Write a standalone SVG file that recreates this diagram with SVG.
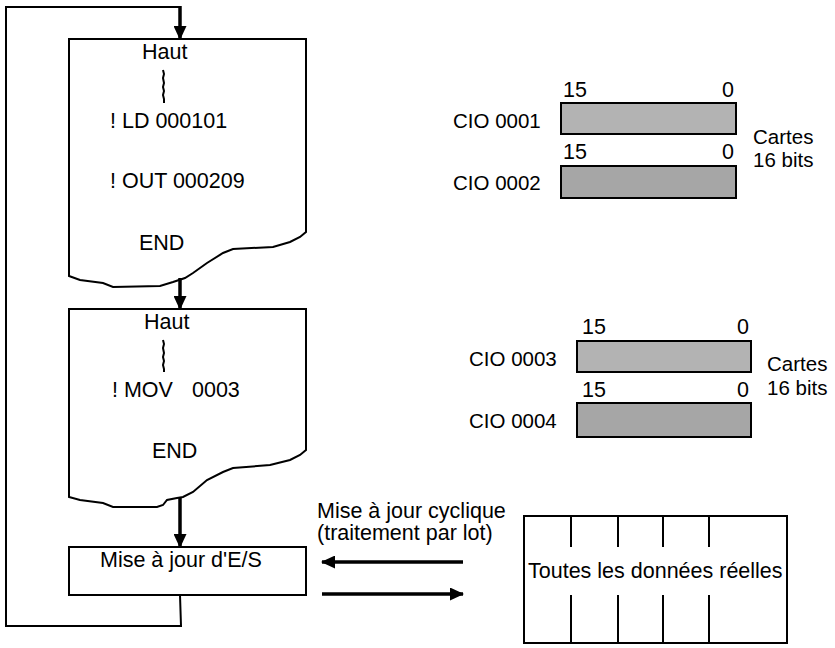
<svg xmlns="http://www.w3.org/2000/svg" width="835" height="648" viewBox="0 0 835 648">
<defs>
<style>
text{font-family:"Liberation Sans",Arial,sans-serif;font-size:21.5px;fill:#000}
text.cio{font-size:20.5px}
text.card{font-size:20.5px}
.box{fill:#fff;stroke:#000;stroke-width:2}
.ln{fill:none;stroke:#000;stroke-width:2}
.arr{fill:none;stroke:#000;stroke-width:3.5}
.reg1{fill:#b3b3b3;stroke:#000;stroke-width:2}
.reg2{fill:#a6a6a6;stroke:#000;stroke-width:2}
.brk{fill:none;stroke:#000;stroke-width:2}
</style>
<marker id="ah" viewBox="0 0 14 13" refX="13" refY="6.5" markerWidth="14" markerHeight="13" markerUnits="userSpaceOnUse" orient="auto">
<path d="M0,0 L14,6.5 L0,13 z" fill="#000"/>
</marker>
</defs>
<rect width="835" height="648" fill="#fff"/>

<g id="prog1">
<path class="box" d="M69,39 H306 V232 L300,237 L290,242 L273,247 L233,249 L223,253 L207,263 L193,273 L185,278 L173,282 L160,286 L113,287 L103,283 L80,280 L69,276 Z"/>
<text x="142" y="59">Haut</text>
<path class="brk" d="M163,70 l1,4 l-1,4 l1,5 l-1,4 l1,4 l-1,4 l1,4 l0,4"/>
<text x="110" y="128">! LD 000101</text>
<text x="110" y="188">! OUT 000209</text>
<text x="139" y="250">END</text>
</g>

<g id="prog2">
<path class="box" d="M69,309 H306 V450 L300,455 L290,460 L270,465 L233,468 L223,472 L207,480 L193,492 L183,497 L177,498 L167,500 L163,505 L157,507 L113,507 L103,503 L80,500 L69,497 Z"/>
<text x="144" y="329">Haut</text>
<path class="brk" d="M163,340 l1,4 l-1,4 l1,5 l-1,4 l1,4 l-1,4 l1,4 l0,3"/>
<text x="112" y="397">! MOV<tspan x="192">0003</tspan></text>
<text x="152" y="458">END</text>
</g>

<g id="io-update">
<rect class="box" x="69" y="547" width="237" height="48"/>
<text x="100" y="567">Mise à jour d'E/S</text>
</g>

<g id="reg-0001">
<text class="cio" x="453" y="128">CIO 0001</text>
<text x="563" y="97">15</text>
<text x="734" y="97" text-anchor="end">0</text>
<rect class="reg1" x="561" y="103" width="175" height="31"/>
</g>
<g id="reg-0002">
<text class="cio" x="453" y="190">CIO 0002</text>
<text x="563" y="159">15</text>
<text x="734" y="159" text-anchor="end">0</text>
<rect class="reg2" x="561" y="166" width="175" height="32"/>
</g>
<g id="cards1">
<text class="card" x="753" y="144">Cartes</text>
<text class="card" x="753" y="167">16 bits</text>
</g>

<g id="reg-0003">
<text class="cio" x="469" y="366">CIO 0003</text>
<text x="582" y="334">15</text>
<text x="749" y="334" text-anchor="end">0</text>
<rect class="reg1" x="577" y="341" width="174" height="31"/>
</g>
<g id="reg-0004">
<text class="cio" x="469" y="428">CIO 0004</text>
<text x="582" y="397">15</text>
<text x="749" y="397" text-anchor="end">0</text>
<rect class="reg2" x="577" y="403" width="174" height="34"/>
</g>
<g id="cards2">
<text class="card" x="767" y="371">Cartes</text>
<text class="card" x="767" y="395">16 bits</text>
</g>

<g id="real-data">
<rect class="box" x="524" y="516" width="263" height="127"/>
<path class="ln" d="M571,516 V547 M618,516 V547 M663,516 V547 M709,516 V547 M571,595 V643 M618,595 V643 M663,595 V643 M709,595 V643"/>
<text x="528" y="578">Toutes les données réelles</text>
</g>

<g id="cyclic-label">
<text x="317" y="518">Mise à jour cyclique</text>
<text x="317" y="540">(traitement par lot)</text>
</g>

<g id="connectors">
<path class="ln" d="M180,595 L181,626 H6 V7 H181"/>
<line class="arr" x1="180" y1="6" x2="180" y2="39" marker-end="url(#ah)"/>
<line class="arr" x1="180" y1="278" x2="180" y2="309" marker-end="url(#ah)"/>
<line class="arr" x1="180" y1="498" x2="180" y2="547" marker-end="url(#ah)"/>
<line class="arr" x1="463" y1="562" x2="322" y2="562" marker-end="url(#ah)"/>
<line class="arr" x1="322" y1="594" x2="463" y2="594" marker-end="url(#ah)"/>
</g>
</svg>
